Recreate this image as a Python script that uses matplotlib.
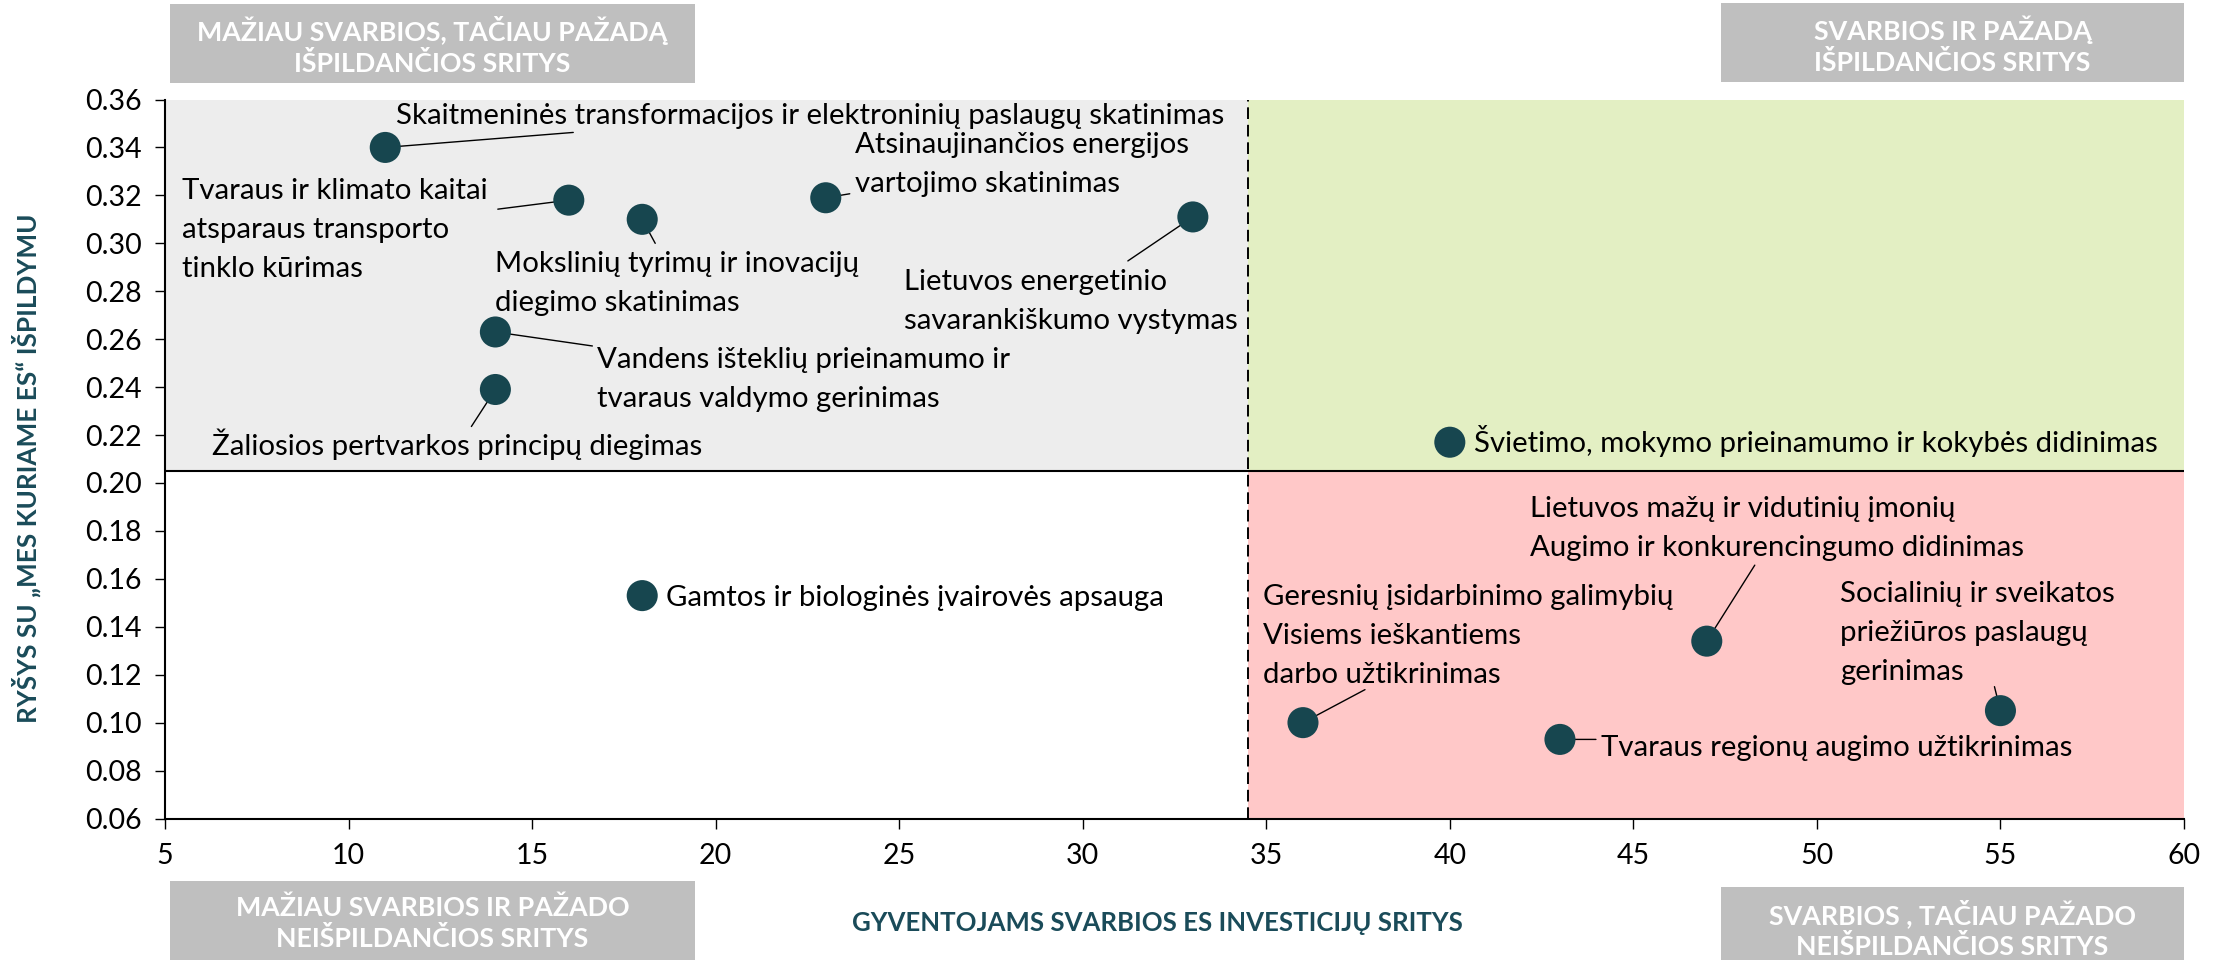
import matplotlib
matplotlib.use("Agg")
import matplotlib.pyplot as plt
from matplotlib.patches import Rectangle

plt.rcParams['font.family'] = ['Lato', 'DejaVu Sans']

# ---- data -------------------------------------------------------------
areas = [
    "Skaitmeninės transformacijos ir elektroninių paslaugų skatinimas",
    "Tvaraus ir klimato kaitai\natsparaus transporto\ntinklo kūrimas",
    "Mokslinių tyrimų ir inovacijų\ndiegimo skatinimas",
    "Atsinaujinančios energijos\nvartojimo skatinimas",
    "Lietuvos energetinio\nsavarankiškumo vystymas",
    "Vandens išteklių prieinamumo ir\ntvaraus valdymo gerinimas",
    "Žaliosios pertvarkos principų diegimas",
    "Švietimo, mokymo prieinamumo ir kokybės didinimas",
    "Gamtos ir biologinės įvairovės apsauga",
    "Geresnių įsidarbinimo galimybių\nVisiems ieškantiems\ndarbo užtikrinimas",
    "Lietuvos mažų ir vidutinių įmonių\nAugimo ir konkurencingumo didinimas",
    "Tvaraus regionų augimo užtikrinimas",
    "Socialinių ir sveikatos\npriežiūros paslaugų\ngerinimas",
]
importance = [11, 16, 18, 23, 33, 14, 14, 40, 18, 36, 47, 43, 55]
relation = [0.340, 0.318, 0.310, 0.319, 0.311, 0.263, 0.239,
            0.217, 0.153, 0.100, 0.134, 0.093, 0.105]

x_split = 34.5
y_split = 0.205

x_ticks = [5, 10, 15, 20, 25, 30, 35, 40, 45, 50, 55, 60]
y_ticks = [0.06, 0.08, 0.10, 0.12, 0.14, 0.16, 0.18, 0.20,
           0.22, 0.24, 0.26, 0.28, 0.30, 0.32, 0.34, 0.36]

quadrant_titles = [
    "MAŽIAU SVARBIOS, TAČIAU PAŽADĄ\nIŠPILDANČIOS SRITYS",
    "SVARBIOS IR PAŽADĄ\nIŠPILDANČIOS SRITYS",
    "MAŽIAU SVARBIOS IR PAŽADO\nNEIŠPILDANČIOS SRITYS",
    "SVARBIOS , TAČIAU PAŽADO\nNEIŠPILDANČIOS SRITYS",
]
x_title = "GYVENTOJAMS SVARBIOS ES INVESTICIJŲ SRITYS"
y_title = "RYŠYS SU „MES KURIAME ES“ IŠPILDYMU"

# ---- layout: label offsets (pixels, first baseline) and leader ends ----
label_offsets = [(11, 23), (-387, 1), (-147, -53), (29, 45), (-289, -73),
                 (102, -36), (-283, -66), (24, -10), (24, -10), (-40, 118),
                 (-177, 124), (41, -17), (-160, 109)]
leader_ends = [(188, 15), (-71, -9), (13, -24), (24, 4), (-65, -44),
               (97, -14), (-24, -37), None, None, (62, 33),
               (48, 76), (36, 0), (-6, 24)]
LINE_STEP = 39

W, H = 2226, 960
TEAL = '#17464F'
TITLE = '#1A4B59'
BOX = '#BFBFBF'

fig = plt.figure(figsize=(W / 100, H / 100), dpi=100)
ax_l, ax_r, ax_t, ax_b = 165, 2184, 99.5, 818.5
ax = fig.add_axes([ax_l / W, 1 - ax_b / H, (ax_r - ax_l) / W, (ax_b - ax_t) / H])

x0, x1 = x_ticks[0], x_ticks[-1]
y0, y1 = y_ticks[0], y_ticks[-1]
ax.set_xlim(x0, x1)
ax.set_ylim(y0, y1)

# quadrant shading
ax.add_patch(Rectangle((x0, y_split), x_split - x0, y1 - y_split,
                       facecolor='#EDEDED', edgecolor='none', zorder=0))
ax.add_patch(Rectangle((x_split, y_split), x1 - x_split, y1 - y_split,
                       facecolor='#E3EFC3', edgecolor='none', zorder=0))
ax.add_patch(Rectangle((x_split, y0), x1 - x_split, y_split - y0,
                       facecolor='#FFC8C8', edgecolor='none', zorder=0))

ax.axhline(y_split, color='black', lw=1.5, zorder=1)
ax.axvline(x_split, color='black', lw=1.4, ls=(0, (6, 3)), zorder=1)

# leader lines and labels
for name, xv, yv, off, lead in zip(areas, importance, relation,
                                   label_offsets, leader_ends):
    if lead is not None:
        ax.annotate('', xy=(xv, yv), xycoords='data', xytext=lead,
                    textcoords='offset pixels',
                    arrowprops=dict(arrowstyle='-', color='black', lw=1.0,
                                    shrinkA=0, shrinkB=0), zorder=2)
    for i, line in enumerate(name.split('\n')):
        ax.annotate(line, xy=(xv, yv), xycoords='data',
                    xytext=(off[0], off[1] - i * LINE_STEP),
                    textcoords='offset pixels', ha='left', va='baseline',
                    fontsize=21.2, color='black', zorder=4)

ax.scatter(importance, relation, s=500, color=TEAL, edgecolors='none', zorder=3)

# axes styling
for side in ('top', 'right'):
    ax.spines[side].set_visible(False)
for side in ('left', 'bottom'):
    ax.spines[side].set_linewidth(1.5)
    ax.spines[side].set_color('black')
ax.set_xticks(x_ticks)
ax.set_yticks(y_ticks)
ax.set_yticklabels([f"{v:.2f}" for v in y_ticks])
ax.tick_params(axis='both', direction='out', length=7, width=1.0,
               labelsize=20.5, colors='black')
ax.tick_params(axis='y', pad=10)
ax.tick_params(axis='x', pad=11)

# axis titles
fig.text(1157 / W, 1 - 923 / H, x_title, ha='center', va='center',
         fontsize=18.5, fontweight='bold', color=TITLE)
fig.text(26 / W, 1 - 468 / H, y_title, ha='center', va='center',
         rotation=90, fontsize=18.8, fontweight='bold', color=TITLE)

# quadrant title boxes (left, right, top, bottom in pixels)
boxes = [(170, 695, 4, 83), (1721, 2184, 3, 82),
         (170, 695, 881, 960), (1721, 2184, 887, 960)]
for title, (bl, br, bt, bb) in zip(quadrant_titles, boxes):
    fig.patches.append(Rectangle((bl / W, 1 - bb / H), (br - bl) / W,
                                 (bb - bt) / H, transform=fig.transFigure,
                                 facecolor=BOX, edgecolor='none', zorder=0))
    fig.text((bl + br) / 2 / W, 1 - (bt + 42) / H, title, ha='center',
             va='center', fontsize=19.3, fontweight='bold', color='white',
             linespacing=1.3)

fig.savefig('out.png', dpi=100)
